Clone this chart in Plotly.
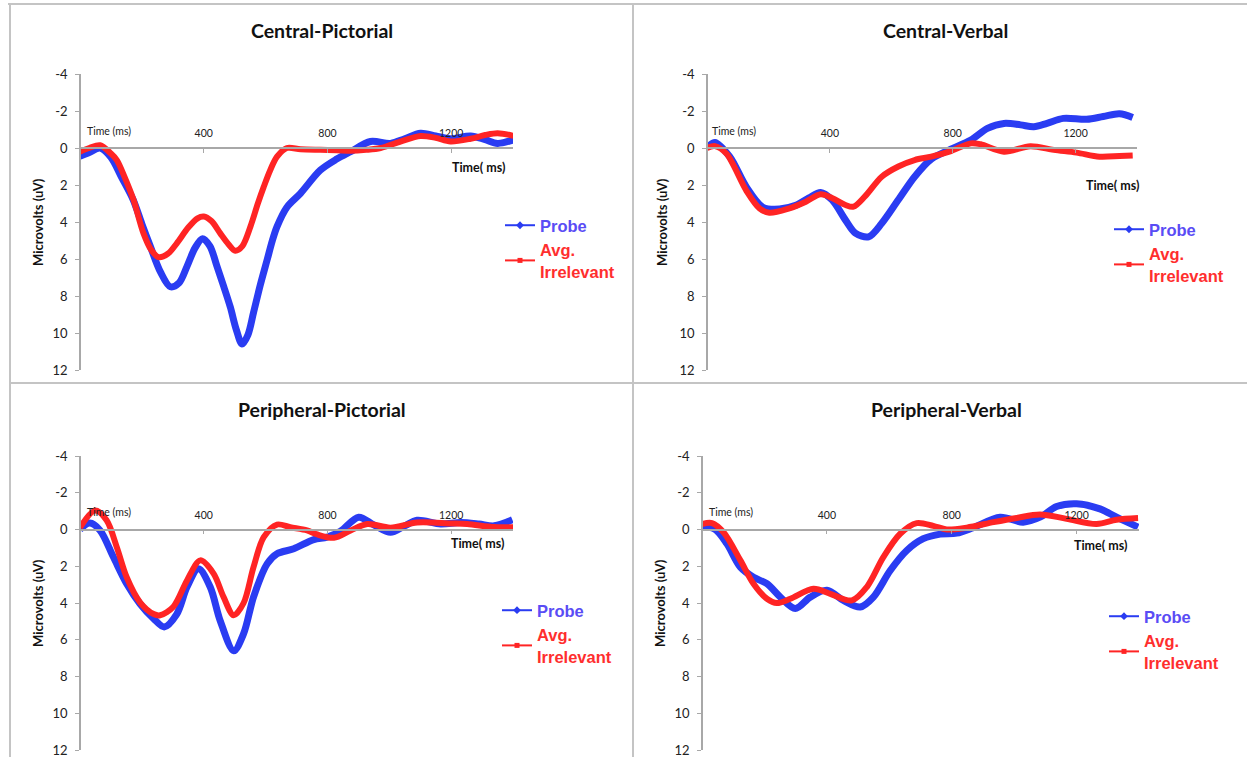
import plotly.graph_objects as go

W, H = 1247, 757

# ---------------- data (time in ms, amplitude in microvolts) ----------------
titles = ["Central-Pictorial", "Central-Verbal", "Peripheral-Pictorial", "Peripheral-Verbal"]
series_names = ["Probe", "Avg.<br>Irrelevant"]
x_tickvals = [400, 800, 1200]
x_ticktext = ["400", "800", "1200"]
y_tickvals = [-4, -2, 0, 2, 4, 6, 8, 10, 12]
y_ticktext = ["-4", "-2", "0", "2", "4", "6", "8", "10", "12"]

cp_probe_t = [0, 30, 65, 100, 135, 172, 200, 227, 260, 292, 320, 346, 372, 396, 420, 443, 465, 486, 505, 524,
              543, 561, 583, 605, 622, 637, 669, 713, 777, 830, 875, 939, 1004, 1050, 1101, 1150, 1198, 1263,
              1310, 1350, 1404]
cp_probe_v = [0.45, 0.25, 0.0, 0.5, 1.6, 2.8, 4.1, 5.3, 6.7, 7.5, 7.3, 6.4, 5.4, 4.9, 5.3, 6.4, 7.5, 8.6, 9.8, 10.6,
              10.1, 8.9, 7.4, 6.05, 5.0, 4.25, 3.2, 2.45, 1.2, 0.6, 0.2, -0.35, -0.25, -0.5, -0.8, -0.65, -0.5,
              -0.65, -0.45, -0.25, -0.45]
cp_irr_t = [0, 30, 65, 100, 119, 145, 173, 205, 230, 254, 285, 313, 350, 380, 400, 425, 453, 480, 502, 525, 551,
            575, 594, 615, 637, 669, 713, 777, 830, 875, 925, 972, 1036, 1101, 1150, 1198, 1263, 1310, 1350, 1404]
cp_irr_v = [0.2, 0.0, -0.15, 0.3, 0.65, 1.6, 2.8, 4.6, 5.5, 5.9, 5.7, 5.15, 4.3, 3.8, 3.7, 3.95, 4.6, 5.2, 5.55,
            5.3, 4.25, 3.0, 2.1, 1.2, 0.47, 0.0, 0.07, 0.1, 0.12, 0.15, 0.1, 0.0, -0.35, -0.65, -0.55, -0.35, -0.5,
            -0.7, -0.8, -0.65]

cv_probe_t = [0, 26, 74, 128, 182, 236, 289, 332, 370, 407, 451, 483, 526, 569, 623, 676, 730, 789, 859, 913, 967,
              1021, 1064, 1107, 1160, 1236, 1290, 1343, 1386]
cv_probe_v = [0.0, -0.3, 0.47, 2.1, 3.2, 3.3, 3.1, 2.7, 2.4, 2.8, 3.9, 4.6, 4.8, 4.07, 2.8, 1.55, 0.6, 0.1, -0.43,
              -1.06, -1.33, -1.25, -1.15, -1.33, -1.6, -1.55, -1.7, -1.85, -1.65]
cv_irr_t = [0, 26, 63, 128, 171, 203, 268, 322, 370, 407, 451, 477, 515, 569, 623, 676, 730, 789, 859, 891, 967,
            1053, 1129, 1203, 1278, 1343, 1386]
cv_irr_v = [0.0, -0.1, 0.3, 2.3, 3.26, 3.5, 3.26, 2.9, 2.5, 2.7, 3.08, 3.17, 2.6, 1.55, 1.0, 0.65, 0.47, 0.2,
            -0.25, -0.2, 0.2, -0.1, 0.1, 0.25, 0.47, 0.43, 0.4]

pp_probe_t = [0, 32, 65, 108, 151, 194, 238, 272, 313, 346, 383, 421, 453, 497, 529, 561, 605, 637, 691, 756, 799,
              842, 901, 950, 1004, 1050, 1090, 1166, 1231, 1290, 1339, 1398]
pp_probe_v = [0.0, -0.35, 0.05, 1.5, 2.95, 4.04, 4.85, 5.3, 4.6, 3.13, 2.14, 3.13, 4.95, 6.6, 5.67, 3.68, 1.87,
              1.32, 1.05, 0.55, 0.42, 0.1, -0.67, -0.25, 0.15, -0.2, -0.5, -0.3, -0.38, -0.3, -0.2, -0.53]
pp_irr_t = [0, 49, 86, 119, 151, 194, 238, 259, 302, 346, 389, 432, 464, 497, 529, 561, 594, 637, 680, 734, 767,
            821, 875, 929, 1004, 1090, 1198, 1252, 1339, 1404]
pp_irr_v = [-0.1, -1.03, -0.5, 0.96, 2.6, 3.96, 4.6, 4.67, 4.2, 2.77, 1.68, 2.4, 3.67, 4.67, 4.0, 2.05, 0.42,
            -0.27, -0.12, 0.05, 0.27, 0.45, 0.05, -0.3, -0.1, -0.38, -0.33, -0.3, -0.13, -0.13]

pv_probe_t = [0, 43, 80, 123, 165, 208, 251, 299, 347, 400, 453, 507, 549, 603, 656, 709, 763, 816, 869, 955, 1029,
              1083, 1136, 1200, 1275, 1328, 1397]
pv_probe_v = [-0.2, 0.0, 0.78, 2.05, 2.6, 2.95, 3.68, 4.3, 3.68, 3.3, 3.86, 4.22, 3.68, 2.23, 1.14, 0.5, 0.25, 0.2,
              -0.1, -0.67, -0.4, -0.67, -1.25, -1.4, -1.12, -0.67, -0.13]
pv_irr_t = [0, 32, 69, 123, 165, 208, 240, 283, 357, 411, 480, 528, 581, 635, 688, 741, 784, 848, 934, 1008, 1083,
            1168, 1264, 1328, 1397]
pv_irr_v = [-0.3, -0.35, 0.15, 1.68, 2.95, 3.77, 4.0, 3.77, 3.22, 3.5, 3.86, 3.13, 1.5, 0.23, -0.35, -0.2, 0.0,
            -0.1, -0.4, -0.63, -0.82, -0.58, -0.3, -0.53, -0.62]

panels_data = [
    (cp_probe_t, cp_probe_v, cp_irr_t, cp_irr_v),
    (cv_probe_t, cv_probe_v, cv_irr_t, cv_irr_v),
    (pp_probe_t, pp_probe_v, pp_irr_t, pp_irr_v),
    (pv_probe_t, pv_probe_v, pv_irr_t, pv_irr_v),
]

# ---------------- layout geometry (pixels) ----------------
geom = [
    dict(x0=80, x1=513, yt=74, yb=370, tx=322, ty=30, lx=500, ly=208, ytx=38, yty=222, tmx=478, tmy=167, tl=85, tly=131),
    dict(x0=707, x1=1137, yt=74, yb=370, tx=945, ty=30, lx=1109, ly=212, ytx=662, yty=222, tmx=1112, tmy=185, tl=710, tly=131),
    dict(x0=80, x1=513, yt=456, yb=750, tx=322, ty=410, lx=497, ly=593, ytx=38, yty=603, tmx=477, tmy=543, tl=85, tly=512),
    dict(x0=702, x1=1139, yt=456, yb=750, tx=946, ty=410, lx=1104, ly=599, ytx=660, yty=603, tmx=1100, tmy=545, tl=707, tly=512),
]

def fx(px):
    return px / W

def fy(py):
    return 1 - py / H

BLUE = "#2a3cf2"
RED = "#ff2424"
PROBE_TXT = "#5a4cf5"
IRR_TXT = "#ff2e2e"
AXIS_GREY = "#a8a8a8"
TXT = "#222222"

fig = go.Figure()
layout = dict(
    width=W, height=H, margin=dict(l=0, r=0, t=0, b=0, autoexpand=False),
    paper_bgcolor="white", plot_bgcolor="rgba(0,0,0,0)", showlegend=True,
)
annotations = []
shapes = []

Y_RANGE = [12, -4]
X_RANGE = [0, 1400]

for i, (g, d) in enumerate(zip(geom, panels_data)):
    k = "" if i == 0 else str(i + 1)
    xa, ya = "x" + k, "y" + k
    leg = "legend" + k
    pt, pv, it, iv = d
    zero_py = g["yt"] + (0 - (-4)) / 16 * (g["yb"] - g["yt"])

    fig.add_trace(go.Scatter(x=pt, y=pv, mode="lines", line=dict(color=BLUE, width=7, shape="spline", smoothing=0.9),
                             xaxis=xa, yaxis=ya, showlegend=False, hoverinfo="skip"))
    fig.add_trace(go.Scatter(x=it, y=iv, mode="lines", line=dict(color=RED, width=6, shape="spline", smoothing=0.9),
                             xaxis=xa, yaxis=ya, showlegend=False, hoverinfo="skip"))
    # legend entries
    fig.add_trace(go.Scatter(x=[None], y=[None], mode="lines+markers",
                             name=f"<span style='color:{PROBE_TXT}'>{series_names[0]}</span>",
                             line=dict(color=BLUE, width=2), marker=dict(color=BLUE, size=6, symbol="diamond"),
                             xaxis=xa, yaxis=ya, legend=leg))
    fig.add_trace(go.Scatter(x=[None], y=[None], mode="lines+markers",
                             name=f"<span style='color:{IRR_TXT}'>{series_names[1]}</span>",
                             line=dict(color=RED, width=2), marker=dict(color=RED, size=5, symbol="square"),
                             xaxis=xa, yaxis=ya, legend=leg))

    layout["xaxis" + k] = dict(
        domain=[fx(g["x0"]), fx(g["x1"])], range=X_RANGE, anchor="free", position=fy(zero_py),
        side="top", showgrid=False, zeroline=False, showline=True, linecolor=AXIS_GREY, automargin=False,
        linewidth=1.5, ticks="inside", ticklen=4, tickcolor=AXIS_GREY, tickvals=x_tickvals, ticktext=x_ticktext,
        tickfont=dict(family="Lato", size=10.5, color=TXT), ticklabelstandoff=6, fixedrange=True,
    )
    layout["yaxis" + k] = dict(
        domain=[fy(g["yb"]), fy(g["yt"])], range=Y_RANGE, anchor="free", position=fx(g["x0"]), showgrid=False,
        zeroline=False, showline=True, linecolor=AXIS_GREY, linewidth=1.5, ticks="outside", ticklen=4,
        automargin=False, tickcolor=AXIS_GREY, tickvals=y_tickvals, ticktext=y_ticktext,
        ticklabeloverflow="allow",
        tickfont=dict(family="Lato", size=13, color=TXT), ticklabelstandoff=5, fixedrange=True,
    )
    layout[leg] = dict(
        x=fx(g["lx"]), y=fy(g["ly"]), xanchor="left", yanchor="top", bgcolor="rgba(0,0,0,0)",
        font=dict(family="Liberation Sans", size=16.5, color=TXT, weight="bold"), itemwidth=30,
        tracegroupgap=0, traceorder="normal",
    )

    annotations += [
        dict(text=f"<b>{titles[i]}</b>", x=fx(g["tx"]), y=fy(g["ty"]), xref="paper", yref="paper",
             xanchor="center", yanchor="middle",
             showarrow=False, font=dict(family="Lato", size=19.5, color="#111111")),
        dict(text="<b>Microvolts (uV)</b>", x=fx(g["ytx"]), y=fy(g["yty"]), xref="paper", yref="paper",
             xanchor="center", yanchor="middle",
             showarrow=False, textangle=-90, font=dict(family="Lato", size=13, color="#111111")),
        dict(text="<b>Time( ms)</b>", x=fx(g["tmx"]), y=fy(g["tmy"]), xref="paper", yref="paper",
             xanchor="center", yanchor="middle",
             showarrow=False, font=dict(family="Lato", size=12.5, color="#111111")),
        dict(text="Time (ms)", x=fx(g["tl"]), y=fy(g["tly"]), xref="paper", yref="paper", xanchor="left",
             yanchor="middle", showarrow=False, font=dict(family="Lato", size=10.5, color=TXT)),
    ]

# frame lines of the figure grid
FRAME = "#c4c4c4"
for (x0, y0, x1, y1) in [(8, 4, 1247, 4), (10, 4, 10, 757), (633, 4, 633, 757), (10, 383, 1247, 383)]:
    shapes.append(dict(type="line", xref="paper", yref="paper", x0=fx(x0), y0=fy(y0), x1=fx(x1), y1=fy(y1),
                       line=dict(color=FRAME, width=2)))

layout["annotations"] = annotations
layout["shapes"] = shapes
fig.update_layout(**layout)
fig.write_html("out.html")
